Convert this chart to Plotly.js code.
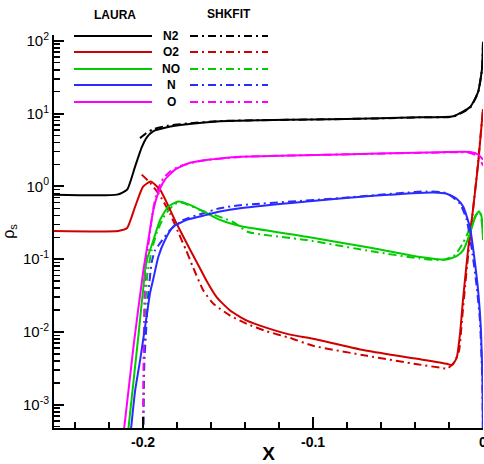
<!DOCTYPE html>
<html>
<head>
<meta charset="utf-8">
<script src="https://cdn.plot.ly/plotly-3.0.1.min.js"></script>
<style>html,body{margin:0;padding:0;background:#fff;}#chart{width:484px;height:464px;}</style>
</head>
<body>
<div id="chart"></div>
<script>
// ---- Data ----
var species = ["N2", "O2", "NO", "N", "O"];
var speciesColors = ["#000000", "#d00000", "#00cc00", "#2b2bff", "#ff00ff"];

// LAURA (solid)
var lauraN2X = [-0.2524, -0.2153, -0.2094, -0.2047, -0.2008, -0.1978, -0.1941, -0.1859, -0.1741, -0.1547, -0.1312, -0.1, -0.0606, -0.0371, -0.0176, -0.0076, -0.0029, -0.0006, 0];
var lauraN2Y = [0.77, 0.77, 0.90, 1.87, 3.43, 4.72, 5.71, 6.49, 7.13, 7.85, 8.1, 8.3, 8.6, 8.9, 9.2, 12.3, 19.8, 41, 97];
var lauraO2X = [-0.2524, -0.2147, -0.2094, -0.2047, -0.2, -0.1955, -0.19, -0.1841, -0.1802, -0.1753, -0.1684, -0.1625, -0.1566, -0.1488, -0.1389, -0.1272, -0.1135, -0.1, -0.0682, -0.0388, -0.0212, -0.0182, -0.0155, -0.0135, -0.0118, -0.0088, -0.0059, -0.0029, 0];
var lauraO2Y = [0.244, 0.244, 0.268, 0.524, 0.99, 1.17, 0.90, 0.476, 0.305, 0.183, 0.0908, 0.0497, 0.0298, 0.0197, 0.0143, 0.01136, 0.00918, 0.00808, 0.0055, 0.00427, 0.00365, 0.0035, 0.0044, 0.0095, 0.0271, 0.133, 0.476, 2.0, 11.5];
var lauraNOX = [-0.2095, -0.2025, -0.1988, -0.1978, -0.1939, -0.19, -0.1851, -0.1792, -0.1724, -0.1625, -0.1547, -0.1429, -0.1037, -0.0645, -0.0371, -0.0214, -0.0155, -0.0116, -0.0076, -0.0047, -0.0024, -0.0009, 0];
var lauraNOY = [0.0003, 0.01, 0.070, 0.0969, 0.183, 0.346, 0.529, 0.62, 0.558, 0.428, 0.346, 0.286, 0.203, 0.141, 0.107, 0.099, 0.110, 0.133, 0.229, 0.37, 0.454, 0.39, 0.183];
var lauraNX = [-0.2079, -0.2047, -0.2018, -0.1988, -0.1959, -0.1939, -0.191, -0.1871, -0.1822, -0.1743, -0.1625, -0.1547, -0.1429, -0.1037, -0.0645, -0.0292, -0.0214, -0.0155, -0.0116, -0.0076, -0.0047, -0.0026, -0.0012, -0.0003, 0];
var lauraNY = [0.0003, 0.00154, 0.004, 0.0118, 0.0339, 0.0546, 0.108, 0.183, 0.28, 0.346, 0.406, 0.451, 0.502, 0.621, 0.743, 0.826, 0.793, 0.676, 0.524, 0.268, 0.088, 0.0318, 0.0104, 0.0021, 0.0003];
var lauraOX = [-0.2121, -0.2055, -0.1998, -0.1969, -0.1939, -0.191, -0.1871, -0.1812, -0.1724, -0.1606, -0.1547, -0.1429, -0.0841, -0.0253, -0.0076, -0.0028, 0];
var lauraOY = [0.0003, 0.0067, 0.0705, 0.183, 0.476, 0.818, 1.24, 1.70, 2.11, 2.34, 2.42, 2.55, 2.74, 2.95, 2.97, 2.74, 2.34];

// SHKFIT (dash-dot)
var shkN2X = [-0.2018, -0.198, -0.194, -0.186, -0.174, -0.155, -0.1312, -0.1, -0.0606, -0.0371, -0.0176, -0.0076, -0.0029, -0.0006, 0];
var shkN2Y = [4.6, 5.4, 6.1, 6.8, 7.3, 7.9, 8.1, 8.3, 8.6, 8.9, 9.1, 12.0, 19.5, 41, 97];
var shkO2X = [-0.2008, -0.1959, -0.19, -0.1841, -0.1794, -0.1747, -0.1706, -0.1646, -0.1586, -0.1488, -0.1389, -0.1272, -0.1135, -0.1, -0.0682, -0.0388, -0.0224, -0.0212, -0.0171, -0.0141, -0.0124, -0.0094, -0.0065, -0.0032, 0];
var shkO2Y = [1.45, 1.125, 0.743, 0.419, 0.236, 0.133, 0.0775, 0.0373, 0.0244, 0.0168, 0.0129, 0.0102, 0.00826, 0.00646, 0.0047, 0.0036, 0.00315, 0.0031, 0.0038, 0.0055, 0.0143, 0.08, 0.35, 1.8, 11.5];
var shkNOX = [-0.1999, -0.1996, -0.1993, -0.1985, -0.1974, -0.1949, -0.1918, -0.1871, -0.1812, -0.1771, -0.1665, -0.1471, -0.1382, -0.1037, -0.0645, -0.0371, -0.0235, -0.0165, -0.0118, -0.0076, -0.0041, -0.0018, 0];
var shkNOY = [0.0003, 0.00212, 0.01, 0.0271, 0.064, 0.133, 0.236, 0.406, 0.577, 0.595, 0.476, 0.325, 0.236, 0.183, 0.127, 0.102, 0.097, 0.114, 0.166, 0.268, 0.406, 0.447, 0.215];
var shkNX = [-0.1999, -0.1996, -0.1992, -0.1982, -0.1969, -0.1949, -0.1929, -0.19, -0.1841, -0.1763, -0.1645, -0.1547, -0.1429, -0.0841, -0.0331, -0.0214, -0.0135, -0.0096, -0.0065, -0.0038, -0.0018, -0.0004, 0];
var shkNY = [0.0003, 0.0015, 0.004, 0.0104, 0.0339, 0.091, 0.133, 0.166, 0.252, 0.346, 0.428, 0.502, 0.55, 0.69, 0.853, 0.805, 0.577, 0.346, 0.133, 0.0437, 0.0143, 0.0021, 0.0003];
var shkOX = [-0.1999, -0.1998, -0.1995, -0.1991, -0.1982, -0.1962, -0.1941, -0.1918, -0.1882, -0.1841, -0.1782, -0.1665, -0.1429, -0.0841, -0.0253, -0.0088, -0.0041, -0.0018, 0];
var shkOY = [0.0003, 0.0021, 0.01, 0.038, 0.0826, 0.215, 0.476, 0.845, 1.28, 1.60, 1.90, 2.23, 2.54, 2.74, 2.92, 2.92, 2.66, 2.34, 1.93];

var yTickVals = [0.001, 0.01, 0.1, 1, 10, 100];
var yTickText = ["10<sup>-3</sup>", "10<sup>-2</sup>", "10<sup>-1</sup>", "10<sup>0</sup>", "10<sup>1</sup>", "10<sup>2</sup>"];
var xTickVals = [-0.2, -0.1, 0];
var xTickText = ["-0.2", "-0.1", "0"];

// ---- Build ----
var lauraX = [lauraN2X, lauraO2X, lauraNOX, lauraNX, lauraOX];
var lauraY = [lauraN2Y, lauraO2Y, lauraNOY, lauraNY, lauraOY];
var shkX = [shkN2X, shkO2X, shkNOX, shkNX, shkOX];
var shkY = [shkN2Y, shkO2Y, shkNOY, shkNY, shkOY];
var DASHDOT = "8px,4px,2px,4px";

var traces = [];
for (var i = 0; i < species.length; i++) {
  traces.push({x: shkX[i], y: shkY[i], mode: "lines", name: species[i] + " SHKFIT",
    line: {color: speciesColors[i], width: 2, dash: DASHDOT, shape: "spline", smoothing: 0.5}, showlegend: false});
}
for (var i = 0; i < species.length; i++) {
  traces.push({x: lauraX[i], y: lauraY[i], mode: "lines", name: species[i] + " LAURA",
    line: {color: speciesColors[i], width: 2, shape: "spline", smoothing: 0.5}, showlegend: false});
}

// legend drawn in paper coordinates
var L = 54, R = 483, T = 35, B = 428;
function px(x) { return (x - L) / (R - L); }
function py(y) { return (B - y) / (B - T); }
var rowsY = [36, 52, 69, 85, 102];
var shapes = [], annotations = [];
for (var i = 0; i < species.length; i++) {
  shapes.push({type: "line", xref: "paper", yref: "paper", x0: px(74), x1: px(152), y0: py(rowsY[i]), y1: py(rowsY[i]),
    line: {color: speciesColors[i], width: 2}});
  shapes.push({type: "line", xref: "paper", yref: "paper", x0: px(190), x1: px(268), y0: py(rowsY[i]), y1: py(rowsY[i]),
    line: {color: speciesColors[i], width: 2, dash: DASHDOT}});
  annotations.push({xref: "paper", yref: "paper", x: px(171), y: py(rowsY[i]), text: "<b>" + species[i] + "</b>",
    showarrow: false, xanchor: "center", yanchor: "middle", font: {family: "Liberation Sans, Arial", size: 12, color: "#000"}});
}
annotations.push({xref: "paper", yref: "paper", x: px(115), y: py(15), text: "<b>LAURA</b>", showarrow: false,
  xanchor: "center", yanchor: "middle", font: {family: "Liberation Sans, Arial", size: 12, color: "#000"}});
annotations.push({xref: "paper", yref: "paper", x: px(229), y: py(14), text: "<b>SHKFIT</b>", showarrow: false,
  xanchor: "center", yanchor: "middle", font: {family: "Liberation Sans, Arial", size: 12, color: "#000"}});

var minorY = [];
for (var d = -4; d <= 2; d++) for (var k = 2; k <= 9; k++) minorY.push(k * Math.pow(10, d));

var layout = {
  width: 484, height: 464,
  margin: {l: L, r: 484 - R, t: T, b: 464 - B},
  paper_bgcolor: "#fff", plot_bgcolor: "#fff",
  showlegend: false,
  font: {family: "Liberation Sans, Arial", color: "#000"},
  xaxis: {
    range: [-0.2524, 0], showgrid: false, zeroline: false,
    showline: true, linecolor: "#000", linewidth: 2, mirror: false,
    ticks: "inside", ticklen: 11, tickwidth: 2, tickcolor: "#000",
    tickmode: "array", tickvals: xTickVals, ticktext: xTickText,
    ticklabeloverflow: "allow",
    tickfont: {family: "Liberation Sans, Arial", size: 14, weight: "bold", color: "#000"},
    minor: {ticks: "inside", ticklen: 6, tickwidth: 1.5, tickcolor: "#000", dtick: 0.02, tick0: 0, showgrid: false},
    title: {text: "<b>X</b>", font: {family: "Liberation Sans, Arial", size: 19, color: "#000"}, standoff: 2}
  },
  yaxis: {
    type: "log", range: [-3.32, 2.08], showgrid: false, zeroline: false,
    showline: true, linecolor: "#000", linewidth: 2, mirror: false,
    ticks: "inside", ticklen: 10, tickwidth: 2, tickcolor: "#000",
    tickmode: "array", tickvals: yTickVals, ticktext: yTickText,
    tickfont: {family: "Liberation Sans, Arial", size: 15, color: "#000"},
    minor: {ticks: "inside", ticklen: 6, tickwidth: 1.5, tickcolor: "#000", tickmode: "array", tickvals: minorY, showgrid: false},
    title: {text: "ρ<sub>s</sub>", font: {family: "Liberation Sans, Arial", size: 16, color: "#000"}, standoff: 6}
  },
  shapes: shapes,
  annotations: annotations
};

Plotly.newPlot("chart", traces, layout, {staticPlot: true, displayModeBar: false});
</script>
</body>
</html>
